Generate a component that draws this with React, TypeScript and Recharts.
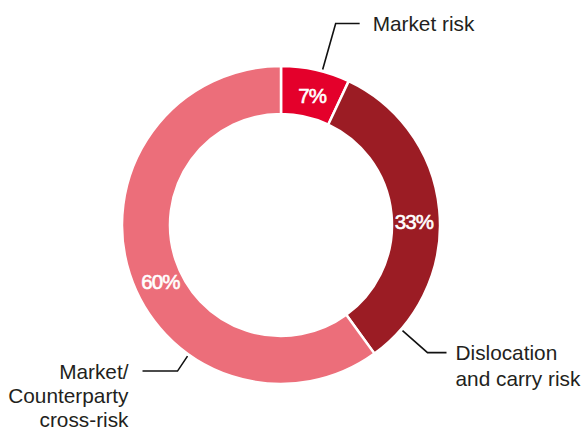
import { PieChart, Pie, Cell } from "recharts"

const categories = ["Market risk", "Dislocation and carry risk", "Market/Counterparty cross-risk"]
const shares = [7, 33, 60]
const calloutText = [["Market risk"], ["Dislocation", "and carry risk"], ["Market/", "Counterparty", "cross-risk"]]

const colors = ["#e4002b", "#9b1c24", "#ec6e7a"]

// callout geometry per slice: anchor angle (deg clockwise from 12 o'clock), elbow offset, tail length, text gap, text side
const callouts = [
  { anchor: 15, elbow: [13, -46], tail: 24, gap: 13, side: "right", lineGap: 26 },
  { anchor: 131, elbow: [25, 22], tail: 19, gap: 9, side: "right", lineGap: 26 },
  { anchor: 215.5, elbow: [-10, 15], tail: -35, gap: 14, side: "left", lineGap: 24 },
]
// small angular nudge of the % labels, as in the original artwork
const pctNudge = [1, 4, -7]

const data = categories.map((name, i) => ({ name, value: shares[i] }))

const RADIAN = Math.PI / 180
const FONT = "'Liberation Sans', Arial, Helvetica, sans-serif"

const renderLabel = (props: any) => {
  const { cx, cy, midAngle, innerRadius, outerRadius, index } = props
  // midAngle: counter-clockwise from 3 o'clock
  const fromTop = 90 - midAngle + pctNudge[index]
  const r = (innerRadius + outerRadius) / 2 - 2
  const px = cx + r * Math.sin(fromTop * RADIAN)
  const py = cy - r * Math.cos(fromTop * RADIAN)

  const c = callouts[index]
  const ar = outerRadius + 2
  const ax = cx + ar * Math.sin(c.anchor * RADIAN)
  const ay = cy - ar * Math.cos(c.anchor * RADIAN)
  const ex = ax + c.elbow[0]
  const ey = ay + c.elbow[1]
  const tx = ex + c.tail
  const lines = calloutText[index]
  const textX = c.side === "right" ? tx + c.gap : tx - c.gap

  return (
    <g>
      <text
        x={px}
        y={py}
        fill="#fff"
        stroke="#fff"
        strokeWidth={0.6}
        fontFamily={FONT}
        fontSize={20.5}
        textAnchor="middle"
        dominantBaseline="central"
        letterSpacing={-0.8}
      >
        {`${shares[index]}%`}
      </text>
      <polyline
        points={`${ax},${ay} ${ex},${ey} ${tx},${ey}`}
        fill="none"
        stroke="#111"
        strokeWidth={1.6}
      />
      {lines.map((line, i) => (
        <text
          key={line}
          x={textX}
          y={ey + i * c.lineGap}
          fill="#231f20"
          fontFamily={FONT}
          fontSize={20.8}
          textAnchor={c.side === "right" ? "start" : "end"}
          dominantBaseline="central"
        >
          {line}
        </text>
      ))}
    </g>
  )
}

export default function App() {
  return (
    <div style={{ position: "absolute", left: 0, top: 0, width: 582, height: 430, background: "#fff" }}>
      <PieChart width={582} height={430} margin={{ top: 0, right: 0, bottom: 0, left: 0 }}>
        <Pie
          data={data}
          dataKey="value"
          nameKey="name"
          cx={281}
          cy={225}
          innerRadius={111}
          outerRadius={159}
          startAngle={90}
          endAngle={-270}
          stroke="#fff"
          strokeWidth={2.5}
          label={renderLabel}
          labelLine={false}
          isAnimationActive={false}
        >
          {data.map((entry, index) => (
            <Cell key={`cell-${index}`} fill={colors[index]} />
          ))}
        </Pie>
      </PieChart>
    </div>
  )
}
